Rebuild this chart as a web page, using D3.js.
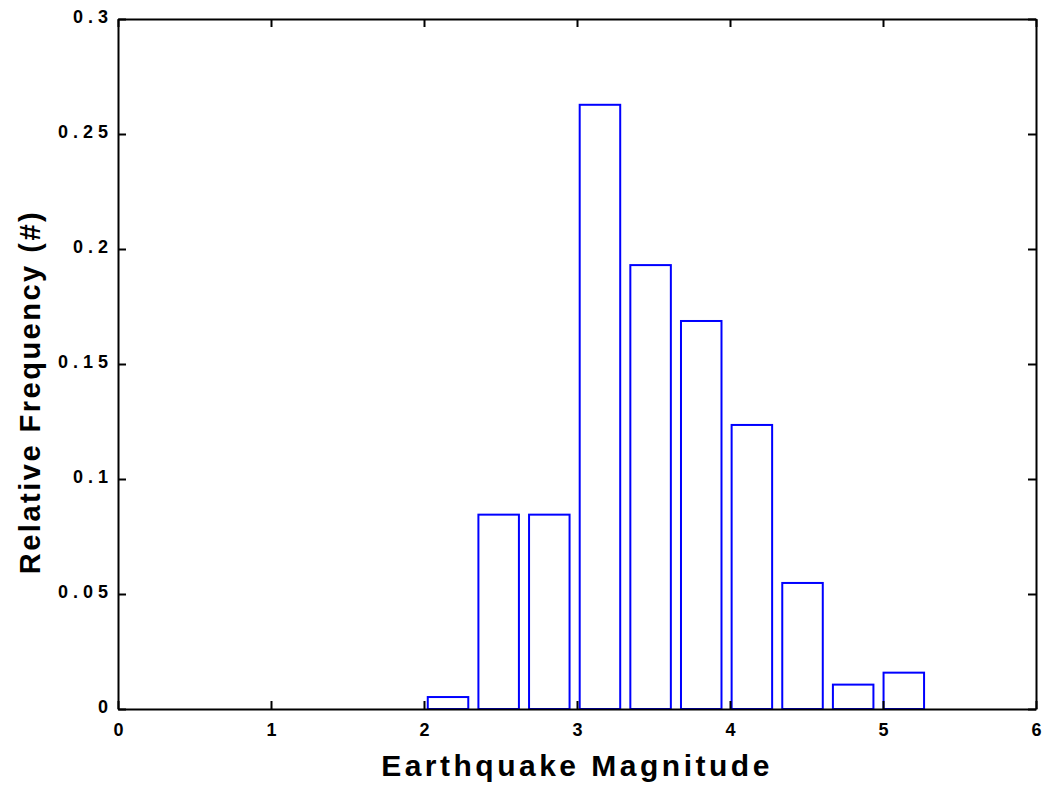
<!DOCTYPE html>
<html>
<head>
<meta charset="utf-8">
<script src="https://cdn.jsdelivr.net/npm/d3@7"></script>
<style>
  html, body { margin: 0; padding: 0; background: #fff; overflow: hidden; }
  svg { display: block; font-family: "Liberation Sans", Arial, sans-serif; }
  .tick text { font-family: "Liberation Sans", Arial, sans-serif; font-size: 18px; font-weight: bold; letter-spacing: 5px; fill: #000; }
  .axis-title { font-family: "Liberation Sans", Arial, sans-serif; font-size: 30px; font-weight: bold; letter-spacing: 3.5px; fill: #000; }
</style>
</head>
<body>
<div id="chart"></div>
<script>
'use strict';

// bin centres (magnitude) and relative frequency of each bin
const binCenters = [2.157, 2.488, 2.819, 3.150, 3.481, 3.812, 4.143, 4.474, 4.805, 5.136];
const relFreq = [0.0052, 0.0845, 0.0845, 0.2627, 0.193, 0.1687, 0.1235, 0.0548, 0.0106, 0.0158];
const binWidth = 0.331;
const xTicks = [0, 1, 2, 3, 4, 5, 6];
const yTicks = [0, 0.05, 0.1, 0.15, 0.2, 0.25, 0.3];

const width = 1047, height = 790;
const margins = { top: 19, right: 11, bottom: 81, left: 118 };
const innerWidth = width - margins.left - margins.right;
const innerHeight = height - margins.top - margins.bottom;

const svg = d3.select('#chart').append('svg')
    .attr('width', width)
    .attr('height', height);

const g = svg.append('g')
    .attr('transform', `translate(${margins.left}, ${margins.top})`);

const scaleX = d3.scaleLinear().domain([0, 6]).range([0, innerWidth]);
const scaleY = d3.scaleLinear().domain([0, 0.3]).range([innerHeight, 0]);

// bars (outlined, no fill)
g.selectAll('rect.bar')
    .data(binCenters.map((c, i) => ({ c, v: relFreq[i] })))
    .join('rect')
    .attr('class', 'bar')
    .attr('x', d => scaleX(d.c - binWidth * 0.4))
    .attr('width', d => scaleX(binWidth * 0.8) - scaleX(0))
    .attr('y', d => scaleY(d.v))
    .attr('height', d => scaleY(0) - scaleY(d.v))
    .attr('fill', 'none')
    .attr('stroke', '#0000ff')
    .attr('stroke-width', 2);

const fmtY = d => d === 0 ? '0' : String(+d.toFixed(2));

// bottom axis
const xAxis = d3.axisBottom(scaleX).tickValues(xTicks).tickFormat(d3.format('d'))
    .tickSizeInner(-8).tickSizeOuter(0).tickPadding(14);
const xg = g.append('g').attr('transform', `translate(0, ${innerHeight})`).call(xAxis);
xg.selectAll('.tick text').attr('dx', 2.5);

// top axis, mirrored ticks
const tg = g.append('g').call(d3.axisTop(scaleX).tickValues(xTicks)
    .tickSizeInner(-8).tickSizeOuter(0));
tg.selectAll('.tick text').remove();

// left axis
const yAxis = d3.axisLeft(scaleY).tickValues(yTicks).tickFormat(fmtY)
    .tickSizeInner(-8).tickSizeOuter(0).tickPadding(5);
const yg = g.append('g').call(yAxis);
yg.selectAll('.tick text').attr('dy', '0.2em');

// right axis, mirrored ticks
const rg = g.append('g').attr('transform', `translate(${innerWidth}, 0)`)
    .call(d3.axisRight(scaleY).tickValues(yTicks)
        .tickSizeInner(-8).tickSizeOuter(0));
rg.selectAll('.tick text').remove();

g.selectAll('.domain').attr('stroke', '#000').attr('stroke-width', 2);
g.selectAll('.tick line').attr('stroke', '#000').attr('stroke-width', 2);

// axis titles
svg.append('text')
    .attr('class', 'axis-title')
    .attr('x', margins.left + innerWidth / 2)
    .attr('y', 776)
    .attr('text-anchor', 'middle')
    .text('Earthquake Magnitude');

svg.append('text')
    .attr('class', 'axis-title')
    .attr('transform', `translate(40, ${margins.top + innerHeight / 2 + 28}) rotate(-90)`)
    .attr('text-anchor', 'middle')
    .style('font-size', '29px')
    .style('letter-spacing', '2.5px')
    .text('Relative Frequency (#)');
</script>
</body>
</html>
